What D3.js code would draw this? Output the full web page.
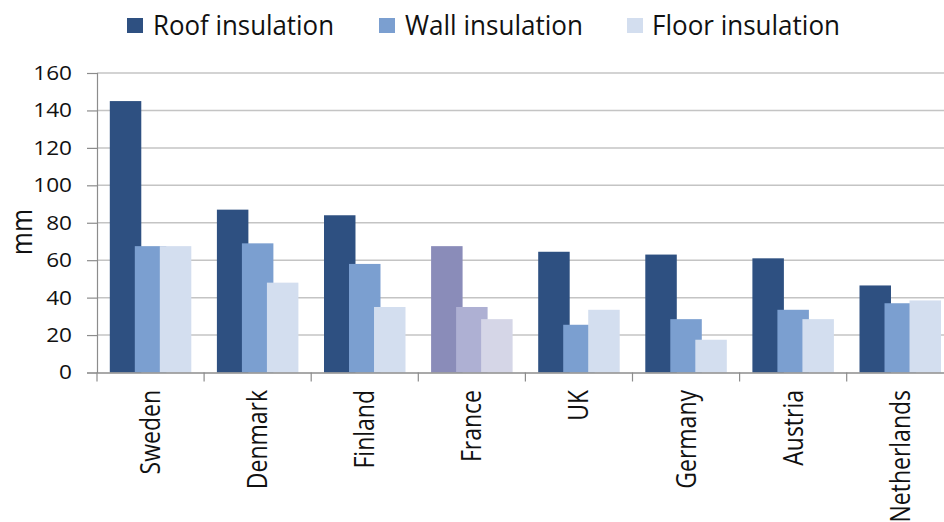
<!DOCTYPE html>
<html>
<head>
<meta charset="utf-8">
<script src="https://cdn.jsdelivr.net/npm/d3@7"></script>
<style>
  html, body { margin: 0; padding: 0; background: #fff; }
  svg { display: block; }
  text { font-family: "Open Sans", "Noto Sans", sans-serif; fill: #111; }
</style>
</head>
<body>
<svg id="chart" width="944" height="522"></svg>
<script>
const countries = ["Sweden", "Denmark", "Finland", "France", "UK", "Germany", "Austria", "Netherlands"];
const seriesNames = ["Roof insulation", "Wall insulation", "Floor insulation"];
const roofValues  = [145, 87, 84, 67.5, 64.5, 63, 61, 46.5];
const wallValues  = [67.5, 69, 58, 35, 25.5, 28.5, 33.5, 37];
const floorValues = [67.5, 48, 35, 28.5, 33.5, 17.5, 28.5, 38.5];
const yTicks = [0, 20, 40, 60, 80, 100, 120, 140, 160];
const yTitle = "mm";
const seriesColors = ["#2e5081", "#7b9fd0", "#d3deef"];
const highlightColors = ["#8a8cb9", "#aeb0d3", "#d5d6e7"]; // France
const highlightCountry = "France";

const seriesValues = [roofValues, wallValues, floorValues];

const svg = d3.select("#chart");
const plotLeft = 97, plotTop = 73, plotBottom = 372.5;
const step = 107.1;

const x = d3.scaleBand().domain(countries).range([plotLeft, plotLeft + step * countries.length]).padding(0);
const y = d3.scaleLinear().domain([0, 160]).range([plotBottom, plotTop]);

const bw = x.bandwidth();
const barW = bw * 0.294;
const barStep = bw * 0.2335;
const groupW = barStep * 2 + barW;
const xs = d3.scaleLinear().domain([0, seriesNames.length - 1]).range([(bw - groupW) / 2, (bw - groupW) / 2 + barStep * 2]);

// gridlines
svg.append("g").selectAll("line").data(yTicks.filter(d => d > 0)).join("line")
  .attr("x1", plotLeft).attr("x2", 944)
  .attr("y1", d => y(d)).attr("y2", d => y(d))
  .attr("stroke", "#c4c4c4").attr("stroke-width", 1.5);

// bars
const rows = [];
countries.forEach((c, i) => {
  seriesNames.forEach((s, j) => rows.push({ c, j, v: seriesValues[j][i] }));
});
svg.append("g").selectAll("rect").data(rows).join("rect")
  .attr("x", d => x(d.c) + xs(d.j))
  .attr("width", barW)
  .attr("y", d => y(d.v))
  .attr("height", d => y(0) - y(d.v))
  .attr("fill", d => (d.c === highlightCountry ? highlightColors : seriesColors)[d.j]);

// y axis
const yAxis = svg.append("g").attr("transform", `translate(${plotLeft},0)`)
  .call(d3.axisLeft(y).tickValues(yTicks).tickSize(10).tickPadding(15).tickFormat(d3.format("d")));
yAxis.select(".domain").attr("stroke", "#8c8c8c").attr("stroke-width", 1.2);
yAxis.selectAll(".tick line").attr("stroke", "#8c8c8c").attr("stroke-width", 1.2);
yAxis.selectAll("text").attr("font-size", 20).attr("fill", "#111")
  .attr("font-family", "'Open Sans', sans-serif")
  .each(function () {
    const n = this.getComputedTextLength();
    d3.select(this).attr("textLength", n * 1.13).attr("lengthAdjust", "spacingAndGlyphs");
  });

// x axis
const xAxis = svg.append("g").attr("transform", `translate(0,${plotBottom})`)
  .call(d3.axisBottom(x).tickSize(0).tickFormat(""));
xAxis.select(".domain").attr("stroke", "#8c8c8c").attr("stroke-width", 1.5);
xAxis.selectAll(".tick").remove();
const boundaries = countries.map(c => x(c));
svg.append("g").selectAll("line").data(boundaries).join("line")
  .attr("x1", d => d).attr("x2", d => d)
  .attr("y1", plotBottom).attr("y2", plotBottom + 9)
  .attr("stroke", "#8c8c8c").attr("stroke-width", 1.2);

svg.append("g").selectAll("text").data(countries).join("text")
  .attr("transform", d => `translate(${x(d) + bw / 2},390) scale(1.15,1) rotate(-90)`)
  .attr("text-anchor", "end")
  .attr("dy", "0.36em")
  .attr("font-size", 23)
  .text(d => d);

// y title
svg.append("text")
  .attr("transform", `translate(22,232) scale(1.15,1) rotate(-90)`)
  .attr("text-anchor", "middle")
  .attr("dy", "0.36em")
  .attr("font-size", 25)
  .text(yTitle);

// legend
const legendSquares = [127, 379, 627];
const legendText = [153, 405, 652];
const legendLen = [181, 178, 188];
const lg = svg.append("g");
seriesNames.forEach((s, j) => {
  lg.append("rect").attr("x", legendSquares[j]).attr("y", 18).attr("width", 16).attr("height", 15)
    .attr("fill", seriesColors[j]);
  lg.append("text").attr("x", legendText[j]).attr("y", 35)
    .attr("font-size", 27)
    .attr("textLength", legendLen[j]).attr("lengthAdjust", "spacingAndGlyphs")
    .text(s);
});
</script>
</body>
</html>
